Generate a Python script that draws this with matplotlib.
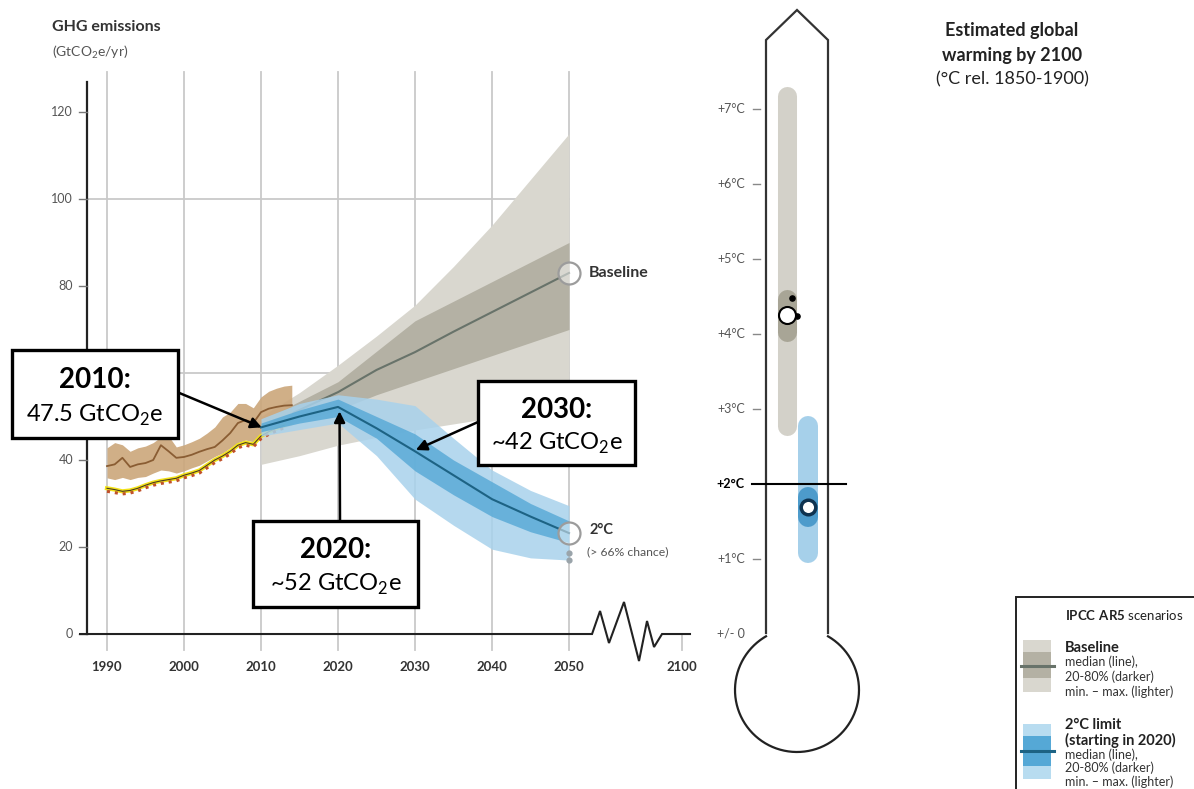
import numpy as np
import matplotlib.pyplot as plt
from matplotlib.patches import Rectangle

plt.rcParams['font.family'] = ['Lato', 'DejaVu Sans']
plt.rcParams['mathtext.fontset'] = 'custom'
plt.rcParams['mathtext.rm'] = 'Lato'
plt.rcParams['mathtext.bf'] = 'Lato:bold'

# Historical emissions (GtCO2e/yr): range and median of the inventories
hist_years = np.arange(1990, 2015)
hist_low = [35.9, 35.5, 36.0, 35.5, 36.0, 36.2, 37.0, 37.7, 37.5, 37.0, 37.5, 38.2, 38.8,
            39.8, 40.8, 41.6, 42.8, 44.0, 44.6, 44.2, 46.0, 46.5, 46.9, 47.5, 48.0]
hist_med = [38.6, 39.0, 40.5, 38.4, 39.0, 39.3, 40.0, 43.4, 42.0, 40.5, 40.7, 41.2, 41.9,
            42.5, 43.0, 44.5, 46.2, 48.5, 49.2, 48.5, 51.0, 51.8, 52.2, 52.5, 52.6]
hist_high = [42.8, 44.0, 43.5, 42.0, 42.8, 43.2, 44.0, 45.3, 45.5, 43.0, 43.5, 44.2, 45.0,
             46.2, 47.6, 49.9, 51.0, 53.0, 53.0, 52.0, 54.5, 55.8, 56.5, 57.0, 57.2]

# Single inventory series
inv_years = np.arange(1990, 2014)
inv_a = [33.5, 33.2, 32.8, 33.0, 33.5, 34.2, 34.8, 35.2, 35.5, 35.8, 36.5, 37.0,
         37.6, 38.8, 40.0, 40.9, 42.0, 43.4, 44.0, 43.6, 45.5, 46.5, 47.3, 48.0]
inv_b = [32.8, 32.5, 32.2, 32.4, 32.9, 33.6, 34.2, 34.6, 34.9, 35.2, 35.9, 36.4,
         37.0, 38.2, 39.4, 40.3, 41.4, 42.8, 43.4, 43.0, 44.9, 45.9, 46.7, 47.4]

# Scenario pathways
scen_years = [2010, 2015, 2020, 2025, 2030, 2035, 2040, 2045, 2050]
base_min = [39.0, 41.0, 43.4, 45.2, 46.9, 48.3, 49.7, 51.2, 52.6]
base_p20 = [46.0, 49.0, 51.5, 55.0, 58.0, 61.0, 64.0, 67.0, 70.0]
base_med = [47.5, 51.5, 55.6, 60.7, 64.8, 69.5, 74.0, 78.5, 83.0]
base_p80 = [49.0, 53.5, 58.0, 65.0, 72.0, 76.5, 81.0, 85.5, 90.0]
base_max = [50.0, 55.5, 61.8, 68.5, 75.6, 84.5, 94.0, 104.5, 115.0]

two_min = [45.5, 47.0, 48.5, 41.0, 31.0, 25.0, 19.5, 17.5, 17.0]
two_p20 = [46.5, 48.5, 50.0, 45.0, 37.5, 32.0, 27.0, 23.5, 21.0]
two_med = [47.5, 50.0, 52.2, 47.3, 42.0, 36.5, 31.0, 27.0, 23.2]
two_p80 = [48.5, 51.5, 54.0, 50.0, 46.0, 40.0, 35.0, 30.0, 26.0]
two_max = [49.5, 53.0, 55.0, 54.0, 52.5, 45.0, 37.7, 33.0, 29.5]

tick_years = [1990, 2000, 2010, 2020, 2030, 2040, 2050]
pos_2100 = 2064.7          # 2100 sits just past the axis break
y_ticks = [0, 20, 40, 60, 80, 100, 120]

# Warming by 2100 (deg C): [low, high] of the ranges, and medians
base_range = [2.65, 7.3]
base_iqr = [3.9, 4.6]
base_median = 4.25
two_range = [0.95, 2.9]
two_iqr = [1.43, 1.95]
two_median = 1.7
temp_ticks = [0, 1, 2, 3, 4, 5, 6, 7]
temp_labels = ['+/- 0', '+1°C', '+2°C', '+3°C', '+4°C', '+5°C', '+6°C', '+7°C']

c_tan, c_brown = '#cba67a', '#8a5d33'
c_g1, c_g2, c_gline = '#d9d7cf', '#b4b1a4', '#68736a'
c_b1, c_b2, c_bline = '#a8d2ec', '#55a8d6', '#1d6384'
c_text = '#333333'

W, H = 1194, 789
fig = plt.figure(figsize=(W / 100, H / 100), dpi=100)

# overlay in pixel units for boxes, titles and legend
ov = fig.add_axes([0, 0, 1, 1], zorder=5)
ov.set_xlim(0, W)
ov.set_ylim(H, 0)
ov.axis('off')
ov.patch.set_alpha(0)

# ---- emissions panel ----
ax = fig.add_axes([40 / W, 1 - 690 / H, 660 / W, 630 / H], zorder=2)
ax.set_xlim(1981.30, 2067.01)
ax.set_ylim(-12.87, 131.95)
ax.axis('off')

for yr in tick_years:
    ax.plot([yr, yr], [-3.7, 129.2], color='#c9c9c9', lw=1.3, zorder=1)
    ax.text(yr, -7.5, str(yr), ha='center', va='center', fontsize=9.5,
            fontweight='bold', color=c_text)
ax.plot([pos_2100, pos_2100], [-3.7, 0], color='#c9c9c9', lw=1.3, zorder=1)
ax.text(pos_2100, -7.5, '2100', ha='center', va='center', fontsize=9.5,
        fontweight='bold', color=c_text)
for yv in (60, 100):
    ax.plot([1987.4, 2050], [yv, yv], color='#c9c9c9', lw=1.3, zorder=1)

ax.plot([1987.4, 1987.4], [0, 126.9], color='#222222', lw=1.6, zorder=6)
for yv in y_ticks:
    ax.plot([1986.4, 1987.4], [yv, yv], color='#777777', lw=1, zorder=6)
    ax.text(1985.6, yv, str(yv), ha='right', va='center', fontsize=9, color='#555555')

# zero line with the axis break
zz_x = [1986.5, 2052.99, 2054.03, 2055.19, 2057.14, 2059.09, 2060.13, 2061.04, 2062.08, 2065.71]
zz_y = [0, 0, 5.29, -2.07, 7.36, -6.21, 2.99, -2.99, 0, 0]
ax.plot(zz_x, zz_y, color='#222222', lw=1.5, zorder=6, clip_on=False, solid_joinstyle='miter')

# baseline scenarios
ax.fill_between(scen_years, base_min, base_max, color=c_g1, lw=0, zorder=2)
ax.fill_between(scen_years, base_p20, base_p80, color=c_g2, lw=0, zorder=2.1)
ax.plot(scen_years, base_med, color=c_gline, lw=1.5, zorder=2.2)

# historical
ax.fill_between(hist_years, hist_low, hist_high, color=c_tan, lw=0, alpha=0.9, zorder=3)
ax.plot(hist_years, hist_med, color=c_brown, lw=1.3, zorder=3.1)
ax.plot(inv_years, inv_a, color='#f2e21a', lw=3.0, zorder=3.2)
ax.plot(inv_years, inv_a, color='#4a3a20', lw=0.8, zorder=3.3)
ax.plot(inv_years, inv_b, color='#c0502a', lw=2.2, ls=(0, (1, 1.6)), zorder=3.4)

# 2 degree scenarios
ax.fill_between(scen_years, two_min, two_max, color=c_b1, lw=0, alpha=0.85, zorder=4)
ax.fill_between(scen_years, two_p20, two_p80, color=c_b2, lw=0, alpha=0.8, zorder=4.1)
ax.plot(scen_years, two_med, color=c_bline, lw=1.5, zorder=4.2)

ax.scatter([2050, 2050], [base_med[-1], two_med[-1]], s=250, facecolor=(1, 1, 1, 0.5),
           edgecolor='#9c9c9c', lw=1.6, zorder=7)
ax.scatter([2050, 2050], [two_min[-1] + 1.6, two_min[-1]], s=12, color='#9aa4aa', zorder=7)
ax.text(2052.6, base_med[-1], 'Baseline', ha='left', va='center', fontsize=11.5,
        fontweight='bold', color=c_text)
ax.text(2052.6, two_med[-1] + 0.6, '2°C', ha='left', va='center', fontsize=10.5,
        fontweight='bold', color=c_text)
ax.text(2052.3, 19.0, '(> 66% chance)', ha='left', va='center', fontsize=8.8, color='#555555')

# titles
ov.text(52, 27, 'GHG emissions', ha='left', va='center', fontsize=11.5, fontweight='bold',
        color=c_text)
ov.text(52, 52, '(GtCO$_2$e/yr)', ha='left', va='center', fontsize=10, color='#555555')

# call-out boxes with arrows
callouts = [
    (12, 350, 166, 88, '2010:', '47.5 GtCO$_2$e', (177, 392), (2010.1, 47.5)),
    (253, 521, 165, 86, r'$\mathbf{2020}$:', '~52 GtCO$_2$e', (340, 521), (2020.2, 51.2)),
    (478, 381, 157, 84, r'$\mathbf{2030}$:', '~42 GtCO$_2$e', (478, 422), (2030.1, 42.3)),
]
for bx, by, bw, bh, head, val, start, tip in callouts:
    ov.add_patch(Rectangle((bx, by), bw, bh, facecolor='white', edgecolor='black', lw=2.4))
    ov.text(bx + bw / 2, by + bh * 0.34, head, ha='center', va='center', fontsize=20,
            fontweight='bold', color='black')
    ov.text(bx + bw / 2, by + bh * 0.74, val, ha='center', va='center', fontsize=17,
            color='black')
    ax.annotate('', xy=tip, xycoords='data', xytext=start, textcoords=ov.transData,
                arrowprops=dict(arrowstyle='-|>', color='black', lw=1.8,
                                mutation_scale=16, shrinkA=0, shrinkB=0), zorder=8)

# ---- thermometer ----
th = fig.add_axes([690 / W, 0, 210 / W, 1], zorder=3)
th.set_xlim(690, 900)
th.set_ylim(-155 / 75, 634 / 75)
th.axis('off')

def py2t(py):
    return (634 - py) / 75

# tube and bulb outline
th.plot([766, 766, 797, 828, 828], [0.013, py2t(40), py2t(10), py2t(40), 0.013],
        color='#333333', lw=1.6, solid_joinstyle='miter')
r, cy = 62, 690
a0 = np.degrees(np.arcsin(31 / r))
ang = np.radians(np.linspace(a0, 360 - a0, 240))
th.plot(797 + r * np.sin(ang), py2t(cy - r * np.cos(ang)), color='#222222', lw=1.6)

half = 9.5 / 75
th.plot([787.5, 787.5], [base_range[0] + half, base_range[1] - half], color='#d3d1c9',
        lw=13.7, solid_capstyle='round')
th.plot([787.5, 787.5], [base_iqr[0] + half, base_iqr[1] - half], color='#a8a596',
        lw=13.7, solid_capstyle='round')
th.plot([808, 808], [two_range[0] + half, two_range[1] - half], color='#a6d0ea',
        lw=14.4, solid_capstyle='round')
th.plot([808, 808], [two_iqr[0] + half, two_iqr[1] - half], color='#4d9bcb',
        lw=14.4, solid_capstyle='round')
th.scatter([792, 797], [4.48, 4.24], s=14, color='black', zorder=5)
th.scatter([787.5], [base_median], s=150, facecolor='white', edgecolor='black', lw=1.5, zorder=6)
th.scatter([808], [two_median], s=110, facecolor='white', edgecolor='#0f3350', lw=2.5, zorder=6)

th.plot([752, 846], [2, 2], color='black', lw=1.5, zorder=4)
for t, lab in zip(temp_ticks, temp_labels):
    bold = t == 2
    th.text(745, t, lab, ha='right', va='center', fontsize=9,
            fontweight='bold' if bold else 'normal', color='black' if bold else '#555555')
    if t not in (0, 2):
        th.plot([753, 760], [t, t], color='#888888', lw=1)

ov.text(1012, 30, 'Estimated global', ha='center', va='center', fontsize=13,
        fontweight='bold', color='#222222')
ov.text(1012, 55, 'warming by 2100', ha='center', va='center', fontsize=13,
        fontweight='bold', color='#222222')
ov.text(1012, 79, '(°C rel. 1850-1900)', ha='center', va='center', fontsize=13,
        color='#222222')

# ---- legend ----
ov.add_patch(Rectangle((1016, 597), 200, 210, facecolor='white', edgecolor='#222222', lw=1.4))
ov.text(1065, 615, r'$\mathbf{IPCC\ AR5}$ scenarios', ha='left', va='center', fontsize=9.5,
        color='#222222')

ov.add_patch(Rectangle((1023, 640), 28, 52, facecolor='#d9d7cf', lw=0))
ov.add_patch(Rectangle((1023, 652), 28, 26, facecolor='#b4b1a4', lw=0))
ov.plot([1021, 1054], [666, 666], color=c_gline, lw=2.2)
ov.text(1065, 648, 'Baseline', ha='left', va='center', fontsize=10.5, fontweight='bold',
        color='#222222')
for i, s in enumerate(['median (line),', '20-80% (darker)', 'min. – max. (lighter)']):
    ov.text(1065, 662 + 15 * i, s, ha='left', va='center', fontsize=9, color='#333333')

ov.add_patch(Rectangle((1023, 724), 28, 55, facecolor='#b8dcf0', lw=0))
ov.add_patch(Rectangle((1023, 736), 28, 30, facecolor='#55a8d6', lw=0))
ov.plot([1021, 1054], [751, 751], color=c_bline, lw=2.2)
ov.text(1065, 725, '2°C limit', ha='left', va='center', fontsize=10.5, fontweight='bold',
        color='#222222')
ov.text(1065, 740, '(starting in 2020)', ha='left', va='center', fontsize=10.5,
        fontweight='bold', color='#222222')
for i, s in enumerate(['median (line),', '20-80% (darker)', 'min. – max. (lighter)']):
    ov.text(1065, 754.5 + 13.5 * i, s, ha='left', va='center', fontsize=9, color='#333333')

fig.savefig('out.png', dpi=100)
